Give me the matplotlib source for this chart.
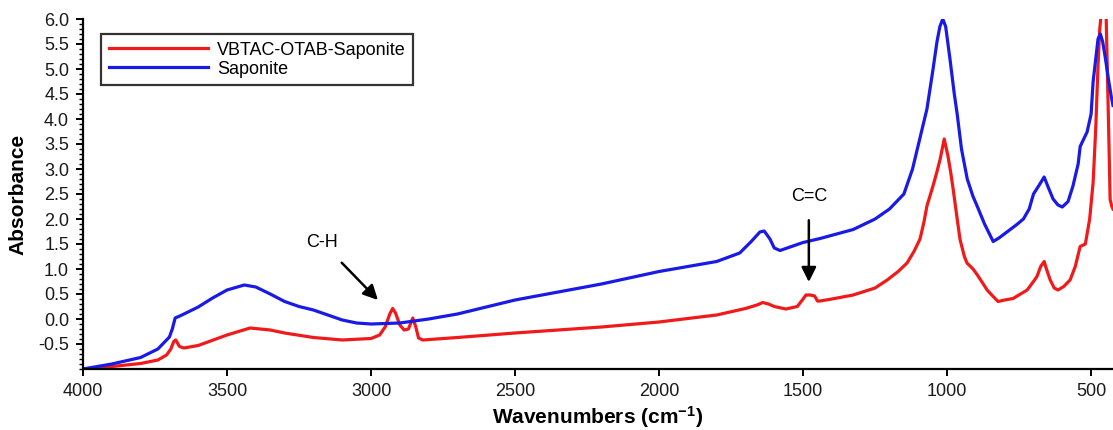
import matplotlib
matplotlib.use("Agg")
import matplotlib.pyplot as plt
from matplotlib.ticker import MultipleLocator
import numpy as np

plt.rcParams['font.family'] = ['Liberation Sans', 'DejaVu Sans']
plt.rcParams['mathtext.fontset'] = 'custom'
plt.rcParams['mathtext.rm'] = 'Liberation Sans:bold'
plt.rcParams['mathtext.bf'] = 'Liberation Sans:bold'
plt.rcParams['mathtext.default'] = 'rm'

# Saponite (blue)
sap_w = [4000, 3900, 3800, 3740, 3700, 3690, 3680, 3660, 3600, 3550, 3500, 3440, 3400,
         3350, 3300, 3250, 3200, 3150, 3100, 3050, 3000, 2900, 2800, 2700, 2500, 2200, 2000,
         1800, 1720, 1680, 1650, 1635, 1615, 1600, 1580, 1500, 1441, 1326, 1250, 1200,
         1150, 1120, 1095, 1070, 1050, 1035, 1025, 1015, 1005, 990, 975, 965, 950, 930,
         910, 895, 870, 840, 820, 790, 760, 735, 715, 700, 680, 663, 650, 632, 615, 600,
         580, 563, 545, 538, 514, 500, 493, 476, 468, 460, 450, 440, 430, 424]
sap_a = [-1.0, -0.9, -0.77, -0.6, -0.36, -0.2, 0.02, 0.07, 0.24, 0.42, 0.58, 0.68, 0.64,
         0.5, 0.35, 0.25, 0.18, 0.08, -0.02, -0.08, -0.1, -0.08, 0.0, 0.1, 0.38, 0.7, 0.95,
         1.15, 1.32, 1.55, 1.74, 1.76, 1.6, 1.42, 1.37, 1.53, 1.61, 1.79, 2.0, 2.2,
         2.5, 3.0, 3.6, 4.2, 4.95, 5.55, 5.85, 6.0, 5.85, 5.2, 4.5, 4.1, 3.4, 2.8,
         2.45, 2.25, 1.9, 1.55, 1.62, 1.75, 1.88, 2.0, 2.2, 2.5, 2.68, 2.84, 2.65, 2.4, 2.28, 2.24,
         2.35, 2.66, 3.1, 3.45, 3.74, 4.1, 4.75, 5.6, 5.7, 5.55, 5.2, 4.8, 4.45, 4.27]

# VBTAC-OTAB-Saponite (red)
mod_w = [4000, 3900, 3800, 3740, 3710, 3695, 3685, 3678, 3665, 3650, 3600, 3500, 3420,
         3350, 3300, 3200, 3100, 3000, 2970, 2950, 2935, 2925, 2915, 2900, 2885, 2870,
         2855, 2845, 2835, 2820, 2700, 2500, 2200, 2000, 1800, 1700, 1660, 1640, 1620,
         1600, 1560, 1520, 1500, 1490, 1475, 1460, 1450, 1441, 1400, 1326, 1250, 1208,
         1170, 1139, 1115, 1094, 1080, 1070, 1049, 1035, 1024, 1010, 997, 988, 979, 965,
         955, 940, 931, 910, 896, 880, 861, 840, 823, 800, 771, 745, 722, 700, 688, 675,
         663, 655, 642, 628, 615, 595, 573, 555, 538, 520, 505, 493, 484, 476, 470, 465,
         448, 444, 438, 434, 428, 424]
mod_a = [-1.0, -0.95, -0.89, -0.82, -0.72, -0.6, -0.45, -0.42, -0.55, -0.58, -0.53, -0.32, -0.18,
         -0.22, -0.28, -0.37, -0.42, -0.39, -0.32, -0.15, 0.1, 0.21, 0.12, -0.12, -0.22, -0.2,
         0.02, -0.15, -0.38, -0.42, -0.37, -0.28, -0.16, -0.06, 0.08, 0.21, 0.28, 0.33, 0.3,
         0.25, 0.2, 0.25, 0.4, 0.48, 0.48, 0.46, 0.36, 0.36, 0.4, 0.48, 0.62, 0.78,
         0.95, 1.12, 1.35, 1.6, 1.95, 2.26, 2.66, 2.95, 3.2, 3.6, 3.26, 2.95, 2.6, 2.0,
         1.59, 1.25, 1.12, 1.0, 0.89, 0.75, 0.58, 0.45, 0.35, 0.38, 0.41, 0.5, 0.58, 0.75, 0.85, 1.05,
         1.15, 1.0, 0.78, 0.62, 0.58, 0.65, 0.78, 1.05, 1.45, 1.5, 2.0, 2.73, 3.8, 5.07, 5.8, 6.1,
         6.1, 5.07, 3.5, 2.39, 2.25, 2.2]

series_labels = ["VBTAC-OTAB-Saponite", "Saponite"]
y_ticks = [-0.5, 0.0, 0.5, 1.0, 1.5, 2.0, 2.5, 3.0, 3.5, 4.0, 4.5, 5.0, 5.5, 6.0]
x_ticks = [4000, 3500, 3000, 2500, 2000, 1500, 1000, 500]

fig = plt.figure(figsize=(11.13, 4.30), dpi=100)
ax = fig.add_axes([83/1113, 61/430, 1 - 83/1113, 350/430])

red = '#f01a1a'
blue = '#1a1ae6'
ax.plot(mod_w, mod_a, color=red, lw=2.3, label=series_labels[0])
ax.plot(sap_w, sap_a, color=blue, lw=2.3, label=series_labels[1])

ax.set_xlim(4000, 424)
ax.set_ylim(-1.0, 6.0)
ax.set_xticks(x_ticks)
ax.set_yticks(y_ticks)
ax.set_yticklabels([f"{v:.1f}" for v in y_ticks])
ax.yaxis.set_minor_locator(MultipleLocator(0.1))

for s in ['top', 'right']:
    ax.spines[s].set_visible(False)
for s in ['left', 'bottom']:
    ax.spines[s].set_linewidth(1.6)
ax.tick_params(axis='both', which='major', direction='out', length=5, width=1.4,
               labelsize=13, pad=5, colors='black', labelcolor='#1a1a1a')
ax.tick_params(axis='y', which='minor', direction='out', length=3, width=1.0)

ax.set_xlabel("Wavenumbers (cm$^{-1}$)", fontsize=15, fontweight='bold', labelpad=3)
ax.set_ylabel("Absorbance", fontsize=15, fontweight='bold', labelpad=8)

leg = ax.legend(loc='upper left', bbox_to_anchor=(18/1030, 335/350), fontsize=13,
                handlelength=5.5, handletextpad=0.5, labelspacing=0.12,
                borderpad=0.42, fancybox=False, frameon=True, borderaxespad=0)
leg.get_frame().set_edgecolor('black')
leg.get_frame().set_linewidth(1.6)
for line in leg.get_lines():
    line.set_linewidth(2.3)

ax.annotate("C-H", xy=(2976, 0.38), xytext=(3170, 1.53), fontsize=13, ha='center', va='center',
            arrowprops=dict(arrowstyle='-|>', lw=1.8, color='black', mutation_scale=22,
                            shrinkA=9, shrinkB=0))
ax.annotate("C=C", xy=(1480, 0.74), xytext=(1480, 2.45), fontsize=13, ha='center', va='center',
            arrowprops=dict(arrowstyle='-|>', lw=1.8, color='black', mutation_scale=22,
                            shrinkA=9, shrinkB=0))

fig.savefig("out.png", dpi=100)
